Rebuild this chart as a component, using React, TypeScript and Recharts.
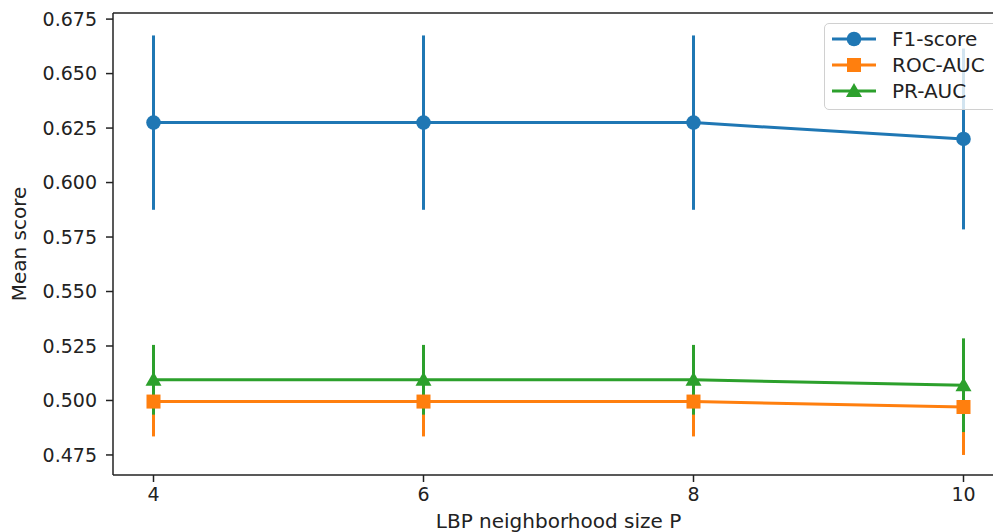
import { LineChart, Line, XAxis, YAxis, ErrorBar, Legend, Label, ReferenceLine } from 'recharts'

const P_SIZES = [4, 6, 8, 10]
const F1 = [0.6275, 0.6275, 0.6275, 0.62]
const F1_ERR = [0.04, 0.04, 0.04, 0.0415]
const ROC = [0.4995, 0.4995, 0.4995, 0.497]
const ROC_ERR = [0.016, 0.016, 0.016, 0.022]
const PR = [0.5095, 0.5095, 0.5095, 0.507]
const PR_ERR = [0.016, 0.016, 0.016, 0.0215]
const Y_TICKS = [0.475, 0.5, 0.525, 0.55, 0.575, 0.6, 0.625, 0.65, 0.675]
const Y_DOMAIN: [number, number] = [0.4658, 0.6778]

const BLUE = '#1f77b4'
const ORANGE = '#ff7f0e'
const GREEN = '#2ca02c'
const INK = '#222'
const FONT = '"DejaVu Sans", sans-serif'

const data = P_SIZES.map((p, i) => ({
  p,
  f1: F1[i], f1Err: F1_ERR[i],
  roc: ROC[i], rocErr: ROC_ERR[i],
  pr: PR[i], prErr: PR_ERR[i],
}))

type Shape = 'circle' | 'square' | 'triangle'

function marker(shape: Shape, color: string, cx: number, cy: number, key?: string | number) {
  if (shape === 'circle') return <circle key={key} cx={cx} cy={cy} r={7.3} fill={color} />
  if (shape === 'square') return <rect key={key} x={cx - 7} y={cy - 7} width={14} height={14} fill={color} />
  return <polygon key={key} points={`${cx},${cy - 8} ${cx - 8},${cy + 6} ${cx + 8},${cy + 6}`} fill={color} />
}

const dotFn = (shape: Shape, color: string) => (props: any) => {
  const { cx, cy, index } = props
  if (cx == null || cy == null) return <g key={index} />
  return marker(shape, color, cx, cy, index)
}

const LEGEND_ITEMS: { label: string; color: string; shape: Shape }[] = [
  { label: 'F1-score', color: BLUE, shape: 'circle' },
  { label: 'ROC-AUC', color: ORANGE, shape: 'square' },
  { label: 'PR-AUC', color: GREEN, shape: 'triangle' },
]

function LegendBox() {
  return (
    <div style={{
      background: 'rgba(255,255,255,0.8)', border: '1px solid #d0d0d0', borderRadius: 5,
      width: 190, height: 87, boxSizing: 'border-box', paddingTop: 2,
    }}>
      {LEGEND_ITEMS.map((it) => (
        <div key={it.label} style={{ display: 'flex', alignItems: 'center', height: 26 }}>
          <svg width={60} height={26} style={{ flex: 'none' }}>
            <line x1={7} x2={51} y1={13} y2={13} stroke={it.color} strokeWidth={3} />
            {marker(it.shape, it.color, 29, 13)}
          </svg>
          <span style={{ fontFamily: FONT, fontSize: 20, color: INK, marginLeft: 7 }}>{it.label}</span>
        </div>
      ))}
    </div>
  )
}

export default function App() {
  return (
    <div style={{ position: 'fixed', left: 0, top: 0, width: 993, height: 532, overflow: 'hidden', background: '#fff' }}>
      <LineChart width={1010} height={532} data={data} margin={{ top: 13, right: 6, bottom: 0, left: 0 }}>
        <XAxis
          dataKey="p" type="number" domain={[3.7, 10.3]} ticks={P_SIZES}
          stroke={INK} strokeWidth={1.5} tickSize={7} tickMargin={6} height={57}
          tick={{ fontSize: 19, fill: INK, fontFamily: FONT }}
        >
          <Label
            content={({ viewBox }: any) => (
              <text x={viewBox.x + viewBox.width / 2} y={viewBox.y + viewBox.height - 4}
                textAnchor="middle" fontSize={20} fill={INK} fontFamily={FONT}>
                LBP neighborhood size P
              </text>
            )}
          />
        </XAxis>
        <YAxis
          type="number" domain={Y_DOMAIN} ticks={Y_TICKS} width={113}
          stroke={INK} strokeWidth={1.5} tickSize={7} tickMargin={9}
          tickFormatter={(v: number) => v.toFixed(3)}
          tick={{ fontSize: 19, fill: INK, fontFamily: FONT }}
        >
          <Label
            content={({ viewBox }: any) => {
              const cy = viewBox.y + viewBox.height / 2
              return (
                <text x={26} y={cy} transform={`rotate(-90 26 ${cy})`} textAnchor="middle"
                  fontSize={20} fill={INK} fontFamily={FONT}>
                  Mean score
                </text>
              )
            }}
          />
        </YAxis>
        <ReferenceLine y={Y_DOMAIN[1]} stroke={INK} strokeWidth={1.5} ifOverflow="visible" />
        <Legend
          layout="horizontal" verticalAlign="middle" align="center"
          wrapperStyle={{ position: 'absolute', top: 23, left: 824, width: 190 }}
          content={() => <LegendBox />}
        />
        <Line dataKey="f1" stroke={BLUE} strokeWidth={3} isAnimationActive={false}
          dot={dotFn('circle', BLUE)} activeDot={false}>
          <ErrorBar dataKey="f1Err" direction="y" width={0} stroke={BLUE} strokeWidth={3} isAnimationActive={false} />
        </Line>
        <Line dataKey="roc" stroke={ORANGE} strokeWidth={3} isAnimationActive={false}
          dot={dotFn('square', ORANGE)} activeDot={false}>
          <ErrorBar dataKey="rocErr" direction="y" width={0} stroke={ORANGE} strokeWidth={3} isAnimationActive={false} />
        </Line>
        <Line dataKey="pr" stroke={GREEN} strokeWidth={3} isAnimationActive={false}
          dot={dotFn('triangle', GREEN)} activeDot={false}>
          <ErrorBar dataKey="prErr" direction="y" width={0} stroke={GREEN} strokeWidth={3} isAnimationActive={false} />
        </Line>
      </LineChart>
    </div>
  )
}
